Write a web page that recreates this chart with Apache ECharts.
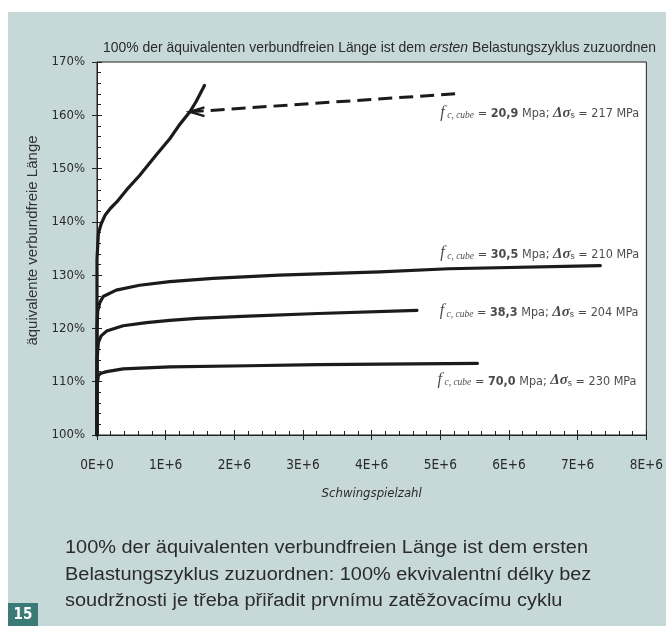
<!DOCTYPE html>
<html>
<head>
<meta charset="utf-8">
<script src="https://cdn.jsdelivr.net/npm/echarts@6/dist/echarts.min.js"></script>
<style>
  html, body { margin: 0; padding: 0; background: #fff; }
  #chart { width: 666px; height: 626px; }
</style>
</head>
<body>
<div id="chart"></div>
<script>
// Bond-free length development vs. number of load cycles
const xTickLabels = ['0E+0', '1E+6', '2E+6', '3E+6', '4E+6', '5E+6', '6E+6', '7E+6', '8E+6'];

// [load cycles, equivalent bond-free length in %]
const curve209 = [[0, 100], [0, 133], [0.02e6, 137.8], [0.06e6, 139.6], [0.12e6, 141.3], [0.2e6, 142.6],
  [0.285e6, 143.7], [0.43e6, 146.0], [0.62e6, 148.7], [0.865e6, 152.6], [1.06e6, 155.6], [1.2e6, 158.2],
  [1.35e6, 160.6], [1.44e6, 162.5], [1.565e6, 165.6]];
const curve305 = [[0, 100], [0, 120], [0.01e6, 123.2], [0.04e6, 124.8], [0.09e6, 126.0], [0.28e6, 127.2],
  [0.62e6, 128.1], [1.06e6, 128.8], [1.69e6, 129.4], [2.65e6, 130.0], [4.12e6, 130.6], [5.12e6, 131.2],
  [7.33e6, 131.8]];
const curve383 = [[0, 100], [0, 114], [0.02e6, 117.4], [0.06e6, 118.6], [0.14e6, 119.5], [0.38e6, 120.5],
  [0.72e6, 121.1], [1.06e6, 121.5], [1.45e6, 121.9], [2.2e6, 122.3], [3.22e6, 122.8], [4.66e6, 123.4]];
const curve700 = [[0, 100], [0, 109], [0.02e6, 111.2], [0.06e6, 111.6], [0.14e6, 111.9], [0.38e6, 112.4],
  [1.06e6, 112.8], [2.2e6, 113.0], [3.22e6, 113.2], [5.54e6, 113.45]];

// pointer from the 20,9 MPa label back to its curve
const pointerLine = [[1.35e6, 160.65], [5.29e6, 164.1]];
const pointerHead = [[1.565e6, 161.5], [1.35e6, 160.65], [1.565e6, 159.85]];

const fcube = ['20,9', '30,5', '38,3', '70,0'];
const dsigma = ['217', '210', '204', '230'];

const titleParts = ['100% der äquivalenten verbundfreien Länge ist dem ', 'ersten', ' Belastungszyklus zuzuordnen'];
const captionLines = [
  '100% der äquivalenten verbundfreien Länge ist dem ersten',
  'Belastungszyklus zuzuordnen: 100% ekvivalentní délky bez',
  'soudržnosti je třeba přiřadit prvnímu zatěžovacímu cyklu'
];
const pageNumber = '15';

const NARROW = "'Liberation Sans Narrow', 'DejaVu Sans Condensed', sans-serif";
const SANS = "'Liberation Sans', Arial, sans-serif";
const SERIF = "'Liberation Serif', 'DejaVu Serif', serif";
const INK = '#1c1a1b';
const TEXT = '#2a2a2a';

// text width helper, used to squeeze or stretch a block of text to a given width
const measureCtx = document.createElement('canvas').getContext('2d');
function textWidth(font, str) { measureCtx.font = font; return measureCtx.measureText(str).width; }

const TITLE_FONT = '15px ' + SANS;
const TITLE_FONT_I = 'italic 15px ' + SANS;
const titleW = textWidth(TITLE_FONT, titleParts[0]) + textWidth(TITLE_FONT_I, titleParts[1]) + textWidth(TITLE_FONT, titleParts[2]);
const titleScale = 553 / titleW;

const CAP_FONT = '18px ' + SANS;
const capScale = 523 / textWidth(CAP_FONT, captionLines[0]);

const chart = echarts.init(document.getElementById('chart'), null, { renderer: 'canvas' });

function curveSeries(name, data) {
  return {
    name, type: 'line', data, xAxisIndex: 0, yAxisIndex: 0,
    showSymbol: false, symbol: 'none', smooth: false,
    lineStyle: { color: INK, width: 3.2, cap: 'round', join: 'round' },
    silent: true, z: 3
  };
}

// label anchors in data coordinates (left edge, vertical centre)
const labelAnchors = [[5.0e6, 161.0], [5.0e6, 134.6], [4.99e6, 123.7], [4.96e6, 110.8]];

const labelRich = {
  f: { fontFamily: SERIF, fontStyle: 'italic', fontSize: 16, color: INK, verticalAlign: 'bottom', lineHeight: 20 },
  sub: { fontFamily: SERIF, fontStyle: 'italic', fontSize: 9.5, color: INK, verticalAlign: 'bottom', lineHeight: 16 },
  t: { fontFamily: NARROW, fontSize: 12.5, color: INK, verticalAlign: 'bottom', lineHeight: 19 },
  b: { fontFamily: NARROW, fontSize: 12.5, fontWeight: 'bold', color: INK, verticalAlign: 'bottom', lineHeight: 19 },
  d: { fontFamily: SERIF, fontStyle: 'italic', fontWeight: 'bold', fontSize: 15, color: INK, verticalAlign: 'bottom', lineHeight: 21 },
  s: { fontFamily: SANS, fontSize: 8.5, color: INK, verticalAlign: 'bottom', lineHeight: 16 }
};

const labelSeries = {
  type: 'scatter', xAxisIndex: 0, yAxisIndex: 0, symbolSize: 0, silent: true, z: 4,
  data: labelAnchors.map((p) => ({ value: p })),
  label: {
    show: true, position: 'right', distance: 0,
    formatter: (p) => '{f|f}{sub| c, cube}{t| = }{b|' + fcube[p.dataIndex] + '}{t| Mpa; }{d|Δσ}{s|s}{t| = ' + dsigma[p.dataIndex] + ' MPa}',
    rich: labelRich
  }
};

const option = {
  backgroundColor: '#ffffff',
  animation: false,
  grid: {
    left: 97, right: 17, top: 62, bottom: 191,
    show: true, backgroundColor: '#ffffff', borderColor: '#222', borderWidth: 1
  },
  xAxis: [{
    type: 'value', min: 0, max: 8e6, interval: 1e6, position: 'bottom',
    name: 'Schwingspielzahl', nameLocation: 'middle', nameGap: 52,
    nameTextStyle: { fontFamily: NARROW, fontStyle: 'italic', fontSize: 13, color: TEXT },
    axisLine: { show: true, lineStyle: { color: '#222', width: 1 } },
    axisTick: { show: true, inside: true, length: 5, lineStyle: { color: '#222' } },
    minorTick: { show: true, splitNumber: 5, length: 4, lineStyle: { color: '#222' } },
    axisLabel: {
      margin: 23, fontFamily: NARROW, fontSize: 13.5, color: TEXT,
      formatter: (v) => xTickLabels[Math.round(v / 1e6)]
    },
    splitLine: { show: false }
  }, {
    type: 'value', min: 0, max: 8e6, interval: 1e6, position: 'bottom',
    axisLine: { show: false },
    axisTick: { show: true, inside: false, length: 5, lineStyle: { color: '#222' } },
    axisLabel: { show: false }, splitLine: { show: false }
  }],
  yAxis: [{
    type: 'value', min: 100, max: 170, interval: 10, position: 'left',
    name: 'äquivalente verbundfreie Länge', nameLocation: 'middle', nameGap: 56, nameRotate: 90,
    nameTextStyle: { fontFamily: SANS, fontSize: 15, color: '#333', padding: [0, 0, 0, 16] },
    axisLine: { show: true, lineStyle: { color: '#222', width: 1 } },
    axisTick: { show: true, inside: true, length: 5, lineStyle: { color: '#222' } },
    minorTick: { show: true, splitNumber: 5, length: 4, lineStyle: { color: '#222' } },
    axisLabel: { margin: 12, fontFamily: NARROW, fontSize: 13, color: TEXT, formatter: '{value}%' },
    splitLine: { show: false }
  }, {
    type: 'value', min: 100, max: 170, interval: 10, position: 'left',
    axisLine: { show: false },
    axisTick: { show: true, inside: false, length: 5, lineStyle: { color: '#222' } },
    axisLabel: { show: false }, splitLine: { show: false }
  }],
  graphic: [
    { type: 'rect', z: -10, shape: { x: 8, y: 12, width: 658, height: 614 }, style: { fill: '#c6d9d8' }, silent: true },
    {
      type: 'text', x: 103, y: 48, scaleX: titleScale, originX: 0, originY: 0, silent: true,
      style: {
        text: titleParts[0] + '{i|' + titleParts[1] + '}' + titleParts[2],
        font: TITLE_FONT, fill: TEXT, verticalAlign: 'middle',
        rich: { i: { fontFamily: SANS, fontSize: 15, fontStyle: 'italic', fill: TEXT, color: TEXT } }
      }
    },
    {
      type: 'text', x: 65, y: 535, scaleX: capScale, originX: 0, originY: 0, silent: true,
      style: { text: captionLines.join('\n'), font: CAP_FONT, fill: '#2b2b2b', lineHeight: 26.5, verticalAlign: 'top' }
    },
    { type: 'rect', shape: { x: 8, y: 603, width: 30, height: 23 }, style: { fill: '#3c7a78' }, silent: true },
    {
      type: 'text', x: 23, y: 615, silent: true,
      style: { text: pageNumber, font: 'bold 15px ' + NARROW, fill: '#ffffff', align: 'center', verticalAlign: 'middle' }
    }
  ],
  series: [
    curveSeries('f_c,cube = 20,9 MPa', curve209),
    curveSeries('f_c,cube = 30,5 MPa', curve305),
    curveSeries('f_c,cube = 38,3 MPa', curve383),
    curveSeries('f_c,cube = 70,0 MPa', curve700),
    {
      type: 'line', data: pointerLine, xAxisIndex: 0, yAxisIndex: 0, symbol: 'none', silent: true, z: 3,
      lineStyle: { color: INK, width: 3, type: [14, 7] }
    },
    {
      type: 'line', data: pointerHead, xAxisIndex: 0, yAxisIndex: 0, symbol: 'none', silent: true, z: 3,
      lineStyle: { color: INK, width: 2.4, join: 'miter' }
    },
    labelSeries
  ]
};

chart.setOption(option);
</script>
</body>
</html>
